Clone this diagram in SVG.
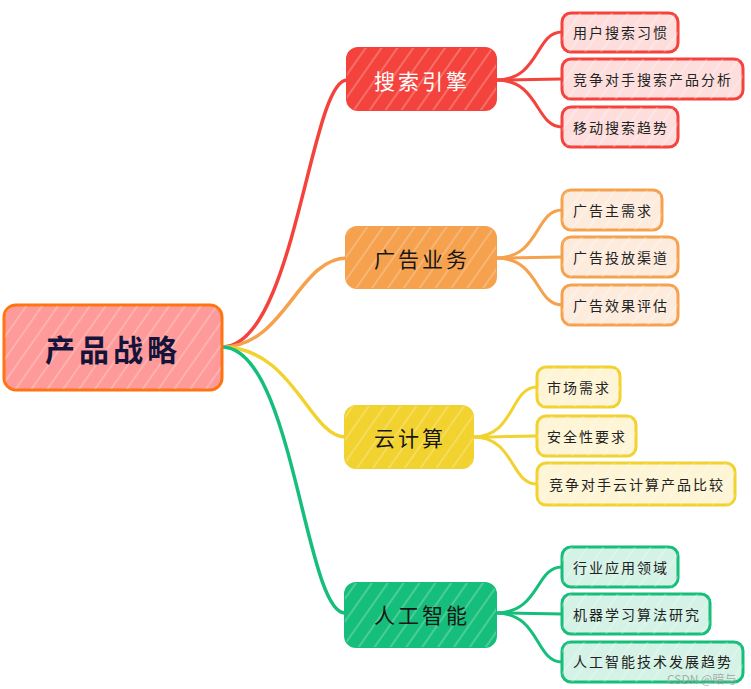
<svg xmlns="http://www.w3.org/2000/svg" width="751" height="689" viewBox="0 0 751 689">
<defs>
<pattern id="hatch" patternUnits="userSpaceOnUse" width="13" height="13" patternTransform="rotate(35)">
<line x1="2" y1="0" x2="2" y2="13" stroke="#ffffff" stroke-width="1" stroke-opacity="0.45"/>
</pattern>
<style>
text{font-family:"Noto Sans CJK SC","Noto Sans",sans-serif;dominant-baseline:central;text-anchor:middle}
.hatch{fill:url(#hatch);stroke:none}
.root-box{fill:#FE9A9A;stroke:#FF7410;stroke-width:3}
.root-txt{font-size:30px;font-weight:bold;fill:#14143A;letter-spacing:4px}
.main-txt{font-size:21px;fill:#161616;letter-spacing:3px}
.child-txt{font-size:14px;fill:#222222;letter-spacing:2px}
.red{fill:#F4433C;stroke:#F4433C;stroke-width:2}
.ora{fill:#F5A14D;stroke:#F5A14D;stroke-width:2}
.yel{fill:#F2D22E;stroke:#F2D22E;stroke-width:2}
.grn{fill:#16BE7B;stroke:#16BE7B;stroke-width:2}
.c-red{fill:#FDDEDD;stroke:#F4433C;stroke-width:3}
.c-ora{fill:#FDECDD;stroke:#F5A14D;stroke-width:3}
.c-yel{fill:#FDF5D6;stroke:#F2D22E;stroke-width:3}
.c-grn{fill:#D4F2E5;stroke:#16BE7B;stroke-width:3}
.l{fill:none;stroke-linecap:round}
.l-red{stroke:#F4433C}
.l-ora{stroke:#F5A14D}
.l-yel{stroke:#F2D22E}
.l-grn{stroke:#16BE7B}
.thick{stroke-width:3.5}
.thin{stroke-width:3}
.wm{font-size:12px;fill:#9a9a9a;fill-opacity:0.8;text-anchor:start}
</style>
</defs>
<g id="connectors">
<path class="l l-red thick" d="M222,347 C295,347 310,80 347,80"/>
<path class="l l-ora thick" d="M222,347 C285,347 298,258 347,258"/>
<path class="l l-yel thick" d="M222,347 C293,347 310,437 345,437"/>
<path class="l l-grn thick" d="M222,347 C293,347 305,613 345,613"/>
<path class="l l-red thin" d="M496,80 C540,80 535,32 562,32"/>
<path class="l l-red thin" d="M496,80 C530,80 535,79 562,79"/>
<path class="l l-red thin" d="M496,80 C540,80 535,127 562,127"/>
<path class="l l-ora thin" d="M496,258 C540,258 535,210 562,210"/>
<path class="l l-ora thin" d="M496,258 C530,258 535,257 562,257"/>
<path class="l l-ora thin" d="M496,258 C540,258 535,305 562,305"/>
<path class="l l-yel thin" d="M473,437 C515,437 510,387 537,387"/>
<path class="l l-yel thin" d="M473,437 C505,437 510,436 537,436"/>
<path class="l l-yel thin" d="M473,437 C515,437 510,484 537,484"/>
<path class="l l-grn thin" d="M496,613 C540,613 535,567 562,567"/>
<path class="l l-grn thin" d="M496,613 C530,613 535,614 562,614"/>
<path class="l l-grn thin" d="M496,613 C540,613 535,662 562,662"/>
</g>
<g id="root">
<rect class="root-box" x="4" y="305" width="218" height="85" rx="12"/>
<rect class="hatch" x="5" y="306" width="216" height="83" rx="11"/>
<text class="root-txt" x="113" y="348">产品战略</text>
</g>
<g id="n-search">
<rect class="red" x="347" y="48" width="149" height="62" rx="11"/>
<rect class="hatch" x="347" y="48" width="149" height="62" rx="11"/>
<text class="main-txt" x="422" y="80" style="fill:#ffffff">搜索引擎</text>
</g>
<g id="n-ad">
<rect class="ora" x="346" y="227" width="150" height="61" rx="11"/>
<rect class="hatch" x="346" y="227" width="150" height="61" rx="11"/>
<text class="main-txt" x="422" y="258">广告业务</text>
</g>
<g id="n-cloud">
<rect class="yel" x="345" y="406" width="128" height="62" rx="11"/>
<rect class="hatch" x="345" y="406" width="128" height="62" rx="11"/>
<text class="main-txt" x="410" y="437">云计算</text>
</g>
<g id="n-ai">
<rect class="grn" x="345" y="583" width="151" height="64" rx="11"/>
<rect class="hatch" x="345" y="583" width="151" height="64" rx="11"/>
<text class="main-txt" x="422" y="614">人工智能</text>
</g>
<g id="c-search-1">
<rect class="c-red" x="562" y="13" width="116" height="39" rx="9"/>
<rect class="hatch" x="562" y="13" width="116" height="39" rx="9"/>
<text class="child-txt" x="621" y="32">用户搜索习惯</text>
</g>
<g id="c-search-2">
<rect class="c-red" x="562" y="59" width="181" height="40" rx="9"/>
<rect class="hatch" x="562" y="59" width="181" height="40" rx="9"/>
<text class="child-txt" x="653" y="79">竞争对手搜索产品分析</text>
</g>
<g id="c-search-3">
<rect class="c-red" x="562" y="107" width="116" height="40" rx="9"/>
<rect class="hatch" x="562" y="107" width="116" height="40" rx="9"/>
<text class="child-txt" x="621" y="127">移动搜索趋势</text>
</g>
<g id="c-ad-1">
<rect class="c-ora" x="562" y="190" width="100" height="40" rx="9"/>
<rect class="hatch" x="562" y="190" width="100" height="40" rx="9"/>
<text class="child-txt" x="613" y="210">广告主需求</text>
</g>
<g id="c-ad-2">
<rect class="c-ora" x="562" y="237" width="116" height="40" rx="9"/>
<rect class="hatch" x="562" y="237" width="116" height="40" rx="9"/>
<text class="child-txt" x="621" y="257">广告投放渠道</text>
</g>
<g id="c-ad-3">
<rect class="c-ora" x="562" y="285" width="116" height="40" rx="9"/>
<rect class="hatch" x="562" y="285" width="116" height="40" rx="9"/>
<text class="child-txt" x="621" y="305">广告效果评估</text>
</g>
<g id="c-cloud-1">
<rect class="c-yel" x="537" y="367" width="83" height="40" rx="9"/>
<rect class="hatch" x="537" y="367" width="83" height="40" rx="9"/>
<text class="child-txt" x="579" y="387">市场需求</text>
</g>
<g id="c-cloud-2">
<rect class="c-yel" x="537" y="416" width="99" height="40" rx="9"/>
<rect class="hatch" x="537" y="416" width="99" height="40" rx="9"/>
<text class="child-txt" x="587" y="436">安全性要求</text>
</g>
<g id="c-cloud-3">
<rect class="c-yel" x="537" y="463" width="198" height="42" rx="9"/>
<rect class="hatch" x="537" y="463" width="198" height="42" rx="9"/>
<text class="child-txt" x="637" y="484">竞争对手云计算产品比较</text>
</g>
<g id="c-ai-1">
<rect class="c-grn" x="562" y="547" width="116" height="40" rx="9"/>
<rect class="hatch" x="562" y="547" width="116" height="40" rx="9"/>
<text class="child-txt" x="621" y="567">行业应用领域</text>
</g>
<g id="c-ai-2">
<rect class="c-grn" x="562" y="594" width="148" height="40" rx="9"/>
<rect class="hatch" x="562" y="594" width="148" height="40" rx="9"/>
<text class="child-txt" x="637" y="614">机器学习算法研究</text>
</g>
<g id="c-ai-3">
<rect class="c-grn" x="562" y="642" width="181" height="40" rx="9"/>
<rect class="hatch" x="562" y="642" width="181" height="40" rx="9"/>
<text class="child-txt" x="653" y="661">人工智能技术发展趋势</text>
</g>
<text class="wm" x="667" y="678">CSDN @暗与</text>
</svg>
